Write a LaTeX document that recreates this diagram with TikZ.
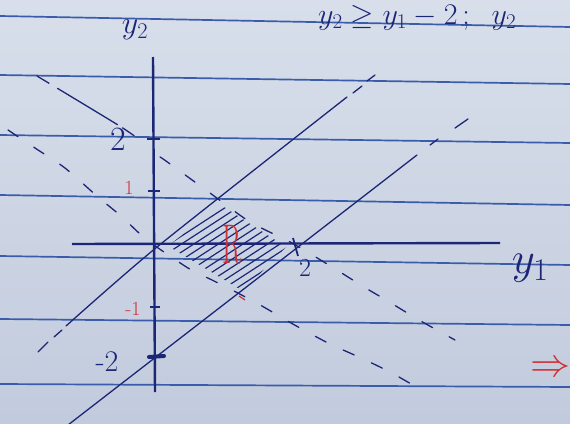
\RequirePackage{fix-cm}
\documentclass[tikz,border=0pt]{standalone}
\usepackage{fontspec}
\usepackage{amsmath}
\definecolor{ink}{RGB}{28,38,118}
\definecolor{ruleblue}{RGB}{58,92,170}
\definecolor{redink}{RGB}{205,48,52}
\definecolor{paperT}{RGB}{216,223,235}
\definecolor{paperB}{RGB}{194,203,221}
\tikzset{
  ruled/.style={draw=ruleblue, line width=1.7pt},
  axisline/.style={draw=ink, line width=2.4pt},
  pen/.style={draw=ink, line width=1.3pt, line cap=round, line join=round},
  penDashed/.style={pen, dash pattern=on 12pt off 19pt},
  hatch/.style={draw=ink, line width=1.2pt, line cap=round},
  lbl/.style={text=ink, inner sep=0pt},
  redlbl/.style={text=redink, inner sep=0pt},
}
\begin{document}
\begin{tikzpicture}[x=1pt,y=-1pt]
\useasboundingbox (0,0) rectangle (570,423);
\shade[top color=paperT, bottom color=paperB] (0,0) rectangle (570,423);
\clip (0,0) rectangle (570,423);

% ruled notebook lines
\draw[ruled] (0,16) -- (570,27);
\draw[ruled] (0,75) -- (570,84);
\draw[ruled] (0,135) -- (570,143);
\draw[ruled] (0,195) -- (570,205);
\draw[ruled] (0,256) -- (570,265);
\draw[ruled] (0,319) -- (570,325);
\draw[ruled] (0,384) -- (570,387);

% axes
\coordinate (ytop) at (153,57);
\coordinate (ybot) at (155,392);
\coordinate (xleft) at (72,244);
\coordinate (xright) at (500,243);
\draw[axisline] (ytop) -- (ybot);
\draw[axisline] (xleft) -- (xright);

% ticks
\draw[ink, line width=1.8pt] (147,139) -- (160,139);
\draw[ink, line width=1.6pt] (148,191) -- (160,191);
\draw[ink, line width=1.4pt] (150,307) -- (160,307);
\draw[ink, line width=4pt, line cap=round] (149,357) -- (164,356);
\draw[ink, line width=1.8pt] (293,238) -- (298,256);
\draw[redink, line width=1.2pt] (239,296) -- (245,300);

% hatched region
\begin{scope}
\clip (168,246) -- (221,205) -- (286,247) -- (243,291) -- cycle;
\foreach \k in {354,362,...,452} {
  \draw[hatch] (150,\k-97.5) -- (310,\k-201.5);
}
\end{scope}

% solid line y2 = y1
\coordinate (c1) at (66,326);
\coordinate (c2) at (157,247);
\coordinate (c3) at (347,97);
\draw[pen] plot[smooth, tension=0.4] coordinates {(c1) (c2) (c3)};
\draw[pen] (62,330) -- (54,337);
\draw[pen] (48,342) -- (38,352);
\draw[pen] (353,93) -- (362,86);
\draw[pen] (367,81) -- (375,75);

% solid line y2 = y1 - 2
\coordinate (d1) at (68,425);
\coordinate (d2) at (417,155);
\draw[pen] (d1) -- (d2);
\draw[pen] (430,145) -- (438,139);
\draw[pen] (455,128) -- (468,119);

% dashed line y2 = 2 - y1
\draw[pen, dash pattern=on 14pt off 10pt on 70pt off 6pt] plot[smooth, tension=0.4] coordinates {(37,76) (118,125) (140,140)};
\draw[penDashed] plot[smooth, tension=0.4] coordinates {(160,157) (166,161) (210,193) (250,222) (292,243) (332,267) (364,287) (386,300) (419,320) (455,340)};

% dashed line y2 = -y1
\draw[penDashed] plot[smooth, tension=0.4] coordinates {(8,130) (35,148) (65,168) (98,197) (121,216) (147,240) (188,268) (212,280) (234,291) (262,306) (291,323) (328,343) (361,358) (390,372) (425,392)};

% labels
\node[lbl, font=\fontsize{32}{32}\selectfont] (ylab2) at (135,30) {$y_2$};
\node[lbl, font=\fontsize{45}{45}\selectfont] (ylab1) at (530,268) {$y_1$};
\node[lbl, font=\fontsize{34}{34}\selectfont] (two) at (118,139) {2};
\node[redlbl, font=\fontsize{20}{20}\selectfont] (one) at (129,188) {1};
\node[redlbl, font=\fontsize{20}{20}\selectfont] (mone) at (133,309) {-1};
\node[lbl, font=\fontsize{30}{30}\selectfont] (mtwo) at (107,362) {-2};
\node[lbl, font=\fontsize{26}{26}\selectfont] (xtwo) at (305,268) {2};
\node[redlbl, font=\fontsize{56}{56}\selectfont, xscale=0.5] (R) at (232,245) {R};
\node[redlbl, font=\fontsize{40}{40}\selectfont] (arrow) at (550,369) {$\Rightarrow$};
\node[lbl, font=\fontsize{30}{30}\selectfont, anchor=base west] (cond) at (318,24) {$y_2 \geq y_1 - 2\,;\;\; y_2$};
\end{tikzpicture}
\end{document}
